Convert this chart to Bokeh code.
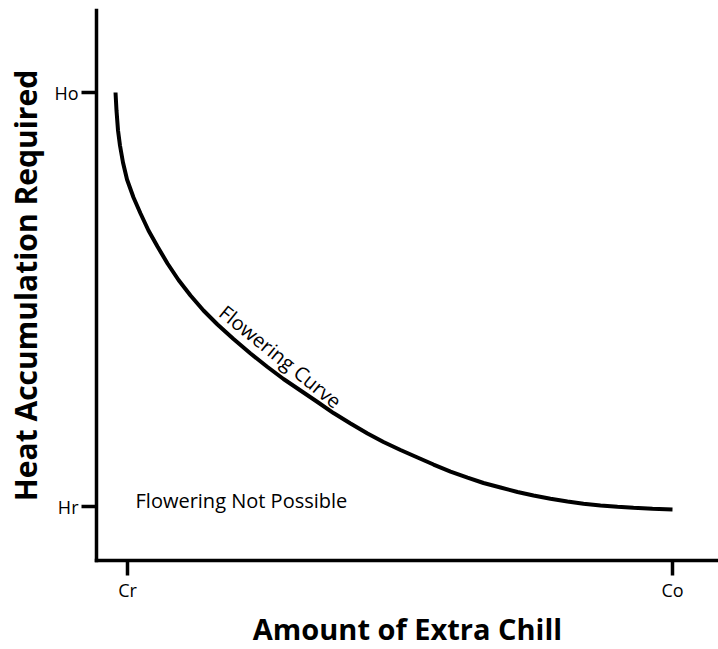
from bokeh.plotting import figure
from bokeh.models import Range1d, FixedTicker, Label
from bokeh.embed import file_html
from bokeh.resources import INLINE

# Data (chill: Cr=0 .. Co=100 ; heat: Hr=0 .. Ho=100)
chill = [-2.20, -2.02, -1.74, -1.38, -0.83, -0.09, 1.10, 2.39, 3.85, 5.50, 7.34,
         9.36, 11.56, 13.94, 16.51, 19.45, 22.57, 25.69, 28.62, 31.74, 34.86,
         37.80, 40.92, 44.04, 46.97, 50.09, 53.21, 56.15, 59.27, 62.39, 65.32,
         68.44, 71.56, 74.50, 77.61, 80.73, 83.67, 86.79, 89.91, 92.84, 96.33,
         100.0]
heat = [100.0, 95.65, 90.82, 87.20, 83.09, 78.99, 74.64, 70.77, 66.67, 62.80,
        58.70, 54.71, 50.97, 47.34, 43.96, 40.46, 36.96, 33.70, 30.80, 28.02,
        25.24, 22.58, 20.05, 17.63, 15.58, 13.65, 11.84, 10.14, 8.45, 7.00,
        5.68, 4.59, 3.50, 2.66, 1.88, 1.21, 0.68, 0.24, -0.07, -0.31, -0.56,
        -0.72]
x_ticks = [0, 100]
x_tick_labels = ["Cr", "Co"]
y_ticks = [0, 100]
y_tick_labels = ["Hr", "Ho"]

FONT = "Open Sans"

p = figure(frame_width=622, frame_height=550,
           x_range=Range1d(-5.69, 108.44), y_range=Range1d(-13.04, 119.81),
           output_backend="svg", toolbar_location=None,
           min_border_left=96, min_border_right=0,
           min_border_top=10, min_border_bottom=89)
p.outline_line_color = None
p.xgrid.visible = False
p.ygrid.visible = False
p.background_fill_color = "white"
p.border_fill_color = "white"

p.line(chill, heat, line_width=4, line_color="black")

for ax in (p.xaxis[0], p.yaxis[0]):
    ax.axis_line_width = 3.5
    ax.axis_line_color = "black"
    ax.axis_line_cap = "square"
    ax.major_tick_line_width = 3.5
    ax.major_tick_line_color = "black"
    ax.major_tick_in = 0
    ax.major_tick_out = 15
    ax.minor_tick_line_color = None
    ax.major_label_text_font = FONT
    ax.major_label_text_font_size = "18px"
    ax.major_label_text_color = "black"
    ax.axis_label_text_font = FONT
    ax.axis_label_text_font_style = "bold"
    ax.axis_label_text_color = "black"

p.xaxis[0].ticker = FixedTicker(ticks=x_ticks)
p.xaxis[0].major_label_overrides = {t: l for t, l in zip(x_ticks, x_tick_labels)}
p.yaxis[0].ticker = FixedTicker(ticks=y_ticks)
p.yaxis[0].major_label_overrides = {t: l for t, l in zip(y_ticks, y_tick_labels)}
p.xaxis[0].major_label_standoff = 2
p.yaxis[0].major_label_standoff = 3
p.xaxis[0].axis_label = "Amount of Extra Chill"
p.yaxis[0].axis_label = "Heat Accumulation Required"
p.xaxis[0].axis_label_text_font_size = "29px"
p.yaxis[0].axis_label_text_font_size = "30px"
p.xaxis[0].axis_label_standoff = 4
p.yaxis[0].axis_label_standoff = 5

p.add_layout(Label(x=28.07, y=36.23, text="Flowering Curve", angle=-0.68,
                   text_align="center", text_baseline="middle",
                   text_font=FONT, text_font_size="20px", text_color="black"))
p.add_layout(Label(x=1.47, y=1.45, text="Flowering Not Possible",
                   text_align="left", text_baseline="alphabetic",
                   text_font=FONT, text_font_size="20px", text_color="black"))

open("out.html", "w").write(file_html(p, INLINE))
